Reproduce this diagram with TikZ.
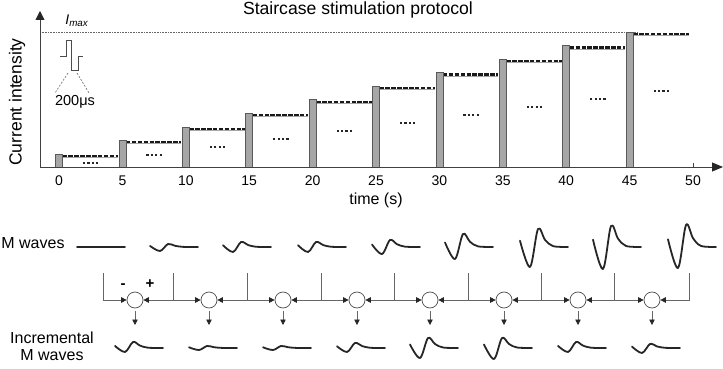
\documentclass[tikz,border=0pt]{standalone}
\usepackage{fontspec}
\setmainfont{Liberation Sans}
\usetikzlibrary{arrows.meta}
\newcommand\mwave[4]{% x0, baseline y, peak, trough
  \draw[trace] plot[smooth,tension=0.55] coordinates {(#1,#2-0.35*#3) (#1+10,#2+#4) (#1+18,#2-#3) (#1+25,#2-0.4*#3) (#1+33,#2-0.05*#3) (#1+48,#2)};}
\begin{document}
\begin{tikzpicture}[x=1pt,y=-1pt,
  lbl/.style={inner sep=0pt, font=\fontsize{16}{17}\selectfont},
  ticklbl/.style={inner sep=0pt, font=\fontsize{14}{15}\selectfont},
  axisline/.style={draw=black!75, line width=0.9pt},
  barbox/.style={draw=black!65, fill=black!35, line width=0.7pt},
  lvl/.style={black!90, line width=2.2pt, dash pattern=on 4.5pt off 1.4pt},
  lvlshadow/.style={black!35, line width=0.9pt},
  imax/.style={black!60, line width=0.6pt, dash pattern=on 0.8pt off 0.8pt},
  trace/.style={black!85, line width=1.8pt, line join=round, line cap=round},
  link/.style={draw=black!60, line width=0.8pt},
  tip/.style={-{Triangle[length=5.5pt,width=5.5pt,color=black!85]}},
  sumc/.style={circle, draw=black!70, line width=0.7pt, minimum size=16pt, inner sep=0pt},
]
\useasboundingbox (0,0) rectangle (723,369);

% title and axis labels
\node[inner sep=0pt, font=\fontsize{17.6}{19}\selectfont] (title) at (358,10) {Staircase stimulation protocol};
\node[inner sep=0pt, rotate=90, font=\fontsize{17.5}{18}\selectfont] (ylab) at (17,102) {Current intensity};
\node[lbl] (xlab) at (376,200) {time (s)};
\node[inner sep=0pt, font=\fontsize{14}{15}\selectfont] (imaxlbl) at (77,21) {\textit{I}\textsubscript{\textit{max}}};

% ticks
\foreach \t in {0,5,...,50} {
  \draw[axisline] (59+12.68*\t,167) -- (59+12.68*\t,163);
  \node[ticklbl] (tl\t) at (59+12.68*\t,181) {\t};
}

% Imax line
\draw[imax] (40,32) -- (637,32);

% bars, levels, dots
\foreach \k in {0,...,9} {
  \pgfmathsetmacro\bx{59+63.4*\k}
  \pgfmathsetmacro\bt{154-13.556*\k}
  \pgfmathsetmacro\dy{163-8*\k}
  \draw[lvlshadow] (\bx+3.5,\bt+3.4) -- (\bx+59,\bt+3.4);
  \draw[lvl] (\bx+3.5,\bt+1.9) -- (\bx+59,\bt+1.9);
  \draw[barbox] (\bx-3.5,167) rectangle (\bx+3.5,\bt);
  \foreach \d in {-6.6,-2.2,2.2,6.6} {
    \fill[black!85] (\bx+31.7+\d-1.1,\dy-1.1) rectangle (\bx+31.7+\d+1.1,\dy+1.1);
  }
}

% axes
\coordinate (o) at (40,167);
\coordinate (ytop) at (40,11);
\coordinate (xend) at (723,167);
\draw[axisline, -{Triangle[length=9pt,width=9pt,color=black!85]}] (o) -- (ytop);
\draw[axisline, -{Triangle[length=11pt,width=9pt,color=black!85]}] (o) -- (xend);

% pulse inset
\draw[black!70, line width=0.7pt] (60,56) -- (66,56) -- (66,40) -- (71,40) -- (71,70) -- (78,70) -- (78,56) -- (83,56);
\draw[black!60, line width=0.6pt, dash pattern=on 2pt off 1.5pt] (68,73) -- (55,93);
\draw[black!60, line width=0.6pt, dash pattern=on 2pt off 1.5pt] (77,73) -- (89,93);
\node[inner sep=0pt, font=\fontsize{14.5}{15}\selectfont] (pw) at (75,102) {200μs};

% bottom labels
\node[lbl] (mw) at (33,243) {M waves};
\node[lbl, align=center] (imw) at (52,346) {Incremental\\M waves};

% M waves
\foreach \x/\p/\d in {77/0/0,150/3/4,223/5/5,298/5/5,372/7/7,445/13/12,520/18/20,593/21/22,668/22/21} {
  \mwave{\x}{247}{\p}{\d}
}

% incremental M waves
\foreach \x/\p/\d in {115/6/4,189/2/2,263/2/2,337/5/4,410/10/10,484/10/11,558/6/4,632/4/5} {
  \mwave{\x}{348}{\p}{\d}
}

% summing circles
\foreach \i/\x in {1/135,2/209,3/283,4/357,5/430,6/504,7/578,8/652} {
  \node[sumc] (c\i) at (\x,300) {};
  \coordinate (d\i) at (\x,325);
  \draw[link,tip] ([yshift=-3pt]c\i.south) -- (d\i);
}
\foreach \k/\x in {1/103,2/173,3/247,4/321,5/394,6/468,7/541,8/614,9/689} {
  \coordinate (t\k) at (\x,273);
  \coordinate (j\k) at (\x,300);
}
\draw[link,tip] (t1) |- (c1.west);
\draw[link,tip] (t9) |- (c8.east);
\foreach \k [evaluate=\k as \p using int(\k-1)] in {2,...,8} {
  \draw[link] (t\k) -- (j\k);
  \draw[link,tip] (j\k) -- (c\p.east);
  \draw[link,tip] (j\k) -- (c\k.west);
}
\node[inner sep=0pt, font=\bfseries\fontsize{15}{15}\selectfont] (minus) at (123,286) {-};
\node[inner sep=0pt, font=\bfseries\fontsize{15}{15}\selectfont] (plus) at (150,284) {+};
\end{tikzpicture}
\end{document}
